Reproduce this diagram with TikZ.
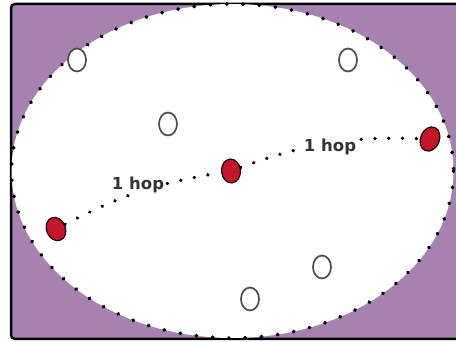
\documentclass[tikz,border=0pt]{standalone}
\usepackage{fontspec}
\newfontfamily\hopfont{DejaVu Sans}
\usetikzlibrary{shapes.geometric}
\definecolor{bgpurple}{RGB}{166,130,176}
\definecolor{nodered}{RGB}{196,22,42}
\begin{document}
\begin{tikzpicture}[x=1pt,y=-1pt,
  hollow/.style={ellipse, draw=black!70, line width=1.7pt, fill=white, minimum width=18pt, minimum height=23pt, inner sep=0pt},
  active/.style={ellipse, draw=black, line width=1.1pt, fill=nodered, minimum width=19pt, minimum height=24pt, inner sep=0pt},
  hop/.style={line width=3.4pt, line cap=round, dash pattern=on 0.3pt off 13.5pt, black},
  hoplabel/.style={font=\hopfont\bfseries\fontsize{16.5}{16.5}\selectfont, text=black!80, fill=white, inner sep=1pt}]
\useasboundingbox (0,0) rectangle (456,342);
\fill[white] (0,0) rectangle (456,342);
\draw[fill=bgpurple, line width=2.5pt, rounded corners=4pt] (11,4) rectangle (475,339);
\fill[white] (232.5,171) ellipse [x radius=221, y radius=167];
\draw[line width=3.8pt, line cap=round, dash pattern=on 0.3pt off 16pt] (232.5,171) ellipse [x radius=221, y radius=167];
% idle nodes
\node[hollow] (n1) at (77,60) {};
\node[hollow] (n2) at (168,124) {};
\node[hollow] (n3) at (348,60) {};
\node[hollow] (n4) at (322,267) {};
\node[hollow] (n5) at (250,299) {};
% active nodes
\node[active, rotate=22] (r1) at (56,229) {};
\node[active, rotate=5] (r2) at (231,171) {};
\node[active, rotate=-22, minimum width=19pt, minimum height=25pt] (r3) at (430,139) {};
% hops
\draw[hop] (r1) to[bend left=9] (r2);
\draw[hop] (r2) to[bend left=11] (r3);
\node[hoplabel] (h1) at (138,185) {1 hop};
\node[hoplabel] (h2) at (330,147) {1 hop};
\end{tikzpicture}
\end{document}
